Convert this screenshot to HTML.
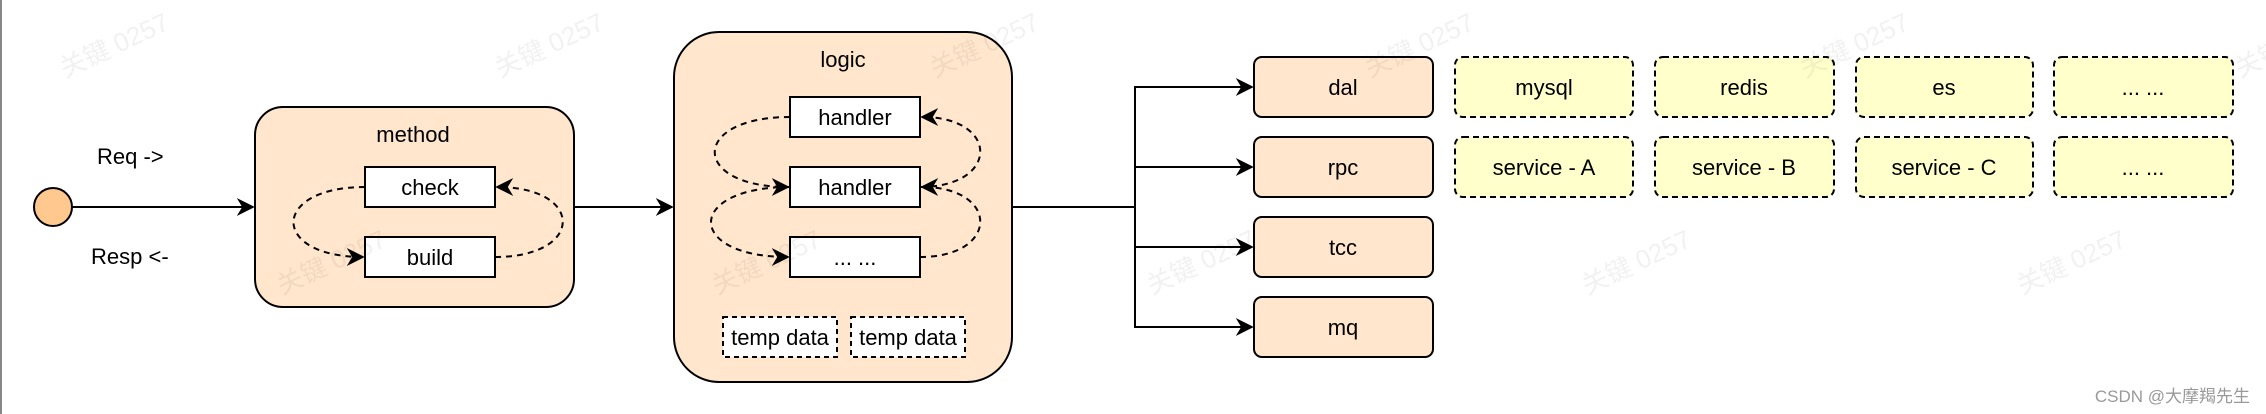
<!DOCTYPE html>
<html><head><meta charset="utf-8"><style>
html,body{margin:0;padding:0;background:#fff;}
svg{display:block;}
text{font-family:"Liberation Sans",Arial,sans-serif;font-size:22px;fill:#000;}
.wm{font-family:"Liberation Sans","Noto Sans CJK SC",sans-serif;font-size:26px;fill:#000;opacity:0.05;}
</style></head><body>
<svg width="2266" height="414" viewBox="0 0 2266 414" xmlns="http://www.w3.org/2000/svg">
<defs>
<marker id="b" viewBox="0 0 10 10" refX="9" refY="5" markerWidth="18" markerHeight="18" markerUnits="userSpaceOnUse" orient="auto">
<path d="M0,0 L10,5 L0,10 L3,5 z" fill="#000"/></marker>
</defs>
<rect width="2266" height="414" fill="#fff"/>
<line x1="1" y1="0" x2="1" y2="414" stroke="#888" stroke-width="2"/>

<circle cx="53" cy="207" r="19" fill="#ffc88f" stroke="#000" stroke-width="2"/>
<line x1="72" y1="207" x2="253" y2="207" stroke="#000" stroke-width="2" marker-end="url(#b)"/>
<text x="97" y="164">Req -&gt;</text>
<text x="91" y="264">Resp &lt;-</text>

<rect x="255" y="107" width="319" height="200" rx="28" fill="#ffe6cc" stroke="#000" stroke-width="2"/>
<text x="413" y="142" text-anchor="middle">method</text>
<rect x="365" y="167" width="130" height="40" fill="#fff" stroke="#000" stroke-width="2"/>
<text x="430" y="195" text-anchor="middle">check</text>
<rect x="365" y="237" width="130" height="40" fill="#fff" stroke="#000" stroke-width="2"/>
<text x="430" y="265" text-anchor="middle">build</text>
<path d="M365,187 C270,187 270,257 363,257" fill="none" stroke="#000" stroke-width="2" stroke-dasharray="6,5" marker-end="url(#b)"/>
<path d="M495,257 C585,257 585,187 497,187" fill="none" stroke="#000" stroke-width="2" stroke-dasharray="6,5" marker-end="url(#b)"/>

<line x1="574" y1="207" x2="672" y2="207" stroke="#000" stroke-width="2" marker-end="url(#b)"/>

<rect x="674" y="32" width="338" height="350" rx="45" fill="#ffe6cc" stroke="#000" stroke-width="2"/>
<text x="843" y="67" text-anchor="middle">logic</text>
<rect x="790" y="97" width="130" height="40" fill="#fff" stroke="#000" stroke-width="2"/>
<text x="855" y="125" text-anchor="middle">handler</text>
<rect x="790" y="167" width="130" height="40" fill="#fff" stroke="#000" stroke-width="2"/>
<text x="855" y="195" text-anchor="middle">handler</text>
<rect x="790" y="237" width="130" height="40" fill="#fff" stroke="#000" stroke-width="2"/>
<text x="855" y="265" text-anchor="middle">... ...</text>
<path d="M790,117 C690,117 690,187 788,187" fill="none" stroke="#000" stroke-width="2" stroke-dasharray="6,5" marker-end="url(#b)"/>
<path d="M790,187 C685,187 685,257 788,257" fill="none" stroke="#000" stroke-width="2" stroke-dasharray="6,5" marker-end="url(#b)"/>
<path d="M920,257 C1000,257 1000,187 922,187" fill="none" stroke="#000" stroke-width="2" stroke-dasharray="6,5" marker-end="url(#b)"/>
<path d="M920,187 C1000,187 1000,117 922,117" fill="none" stroke="#000" stroke-width="2" stroke-dasharray="6,5" marker-end="url(#b)"/>
<rect x="723" y="317" width="114" height="40" fill="#fff" stroke="#000" stroke-width="2" stroke-dasharray="5,4"/>
<text x="780" y="345" text-anchor="middle">temp data</text>
<rect x="851" y="317" width="114" height="40" fill="#fff" stroke="#000" stroke-width="2" stroke-dasharray="5,4"/>
<text x="908" y="345" text-anchor="middle">temp data</text>

<path d="M1012,207 H1135 M1135,87 V327" fill="none" stroke="#000" stroke-width="2"/>
<line x1="1134" y1="87" x2="1252" y2="87" stroke="#000" stroke-width="2" marker-end="url(#b)"/>
<line x1="1134" y1="167" x2="1252" y2="167" stroke="#000" stroke-width="2" marker-end="url(#b)"/>
<line x1="1134" y1="247" x2="1252" y2="247" stroke="#000" stroke-width="2" marker-end="url(#b)"/>
<line x1="1134" y1="327" x2="1252" y2="327" stroke="#000" stroke-width="2" marker-end="url(#b)"/>

<g stroke="#000" stroke-width="2" fill="#ffe6cc">
<rect x="1254" y="57" width="179" height="60" rx="8"/>
<rect x="1254" y="137" width="179" height="60" rx="8"/>
<rect x="1254" y="217" width="179" height="60" rx="8"/>
<rect x="1254" y="297" width="179" height="60" rx="8"/>
</g>
<text x="1343" y="95" text-anchor="middle">dal</text>
<text x="1343" y="175" text-anchor="middle">rpc</text>
<text x="1343" y="255" text-anchor="middle">tcc</text>
<text x="1343" y="335" text-anchor="middle">mq</text>

<g stroke="#000" stroke-width="2" fill="#ffffcc" stroke-dasharray="6,4">
<rect x="1455" y="57" width="178" height="60" rx="8"/>
<rect x="1655" y="57" width="179" height="60" rx="8"/>
<rect x="1856" y="57" width="177" height="60" rx="8"/>
<rect x="2054" y="57" width="179" height="60" rx="8"/>
<rect x="1455" y="137" width="178" height="60" rx="8"/>
<rect x="1655" y="137" width="179" height="60" rx="8"/>
<rect x="1856" y="137" width="177" height="60" rx="8"/>
<rect x="2054" y="137" width="179" height="60" rx="8"/>
</g>
<text x="1544" y="95" text-anchor="middle">mysql</text>
<text x="1744" y="95" text-anchor="middle">redis</text>
<text x="1944" y="95" text-anchor="middle">es</text>
<text x="2143" y="95" text-anchor="middle">... ...</text>
<text x="1544" y="175" text-anchor="middle">service - A</text>
<text x="1744" y="175" text-anchor="middle">service - B</text>
<text x="1944" y="175" text-anchor="middle">service - C</text>
<text x="2143" y="175" text-anchor="middle">... ...</text>

<g>
<text class="wm" transform="translate(65,78) rotate(-25)">关键 0257</text>
<text class="wm" transform="translate(500,78) rotate(-25)">关键 0257</text>
<text class="wm" transform="translate(935,78) rotate(-25)">关键 0257</text>
<text class="wm" transform="translate(1370,78) rotate(-25)">关键 0257</text>
<text class="wm" transform="translate(1805,78) rotate(-25)">关键 0257</text>
<text class="wm" transform="translate(2240,78) rotate(-25)">关键 0257</text>
<text class="wm" transform="translate(282,295) rotate(-25)">关键 0257</text>
<text class="wm" transform="translate(717,295) rotate(-25)">关键 0257</text>
<text class="wm" transform="translate(1152,295) rotate(-25)">关键 0257</text>
<text class="wm" transform="translate(1587,295) rotate(-25)">关键 0257</text>
<text class="wm" transform="translate(2022,295) rotate(-25)">关键 0257</text>
</g>
<text x="2250" y="402" text-anchor="end" style="font-family:'Liberation Sans','Noto Sans CJK SC',sans-serif;font-size:17px;fill:#999;">CSDN @大摩羯先生</text>
</svg>
</body></html>
